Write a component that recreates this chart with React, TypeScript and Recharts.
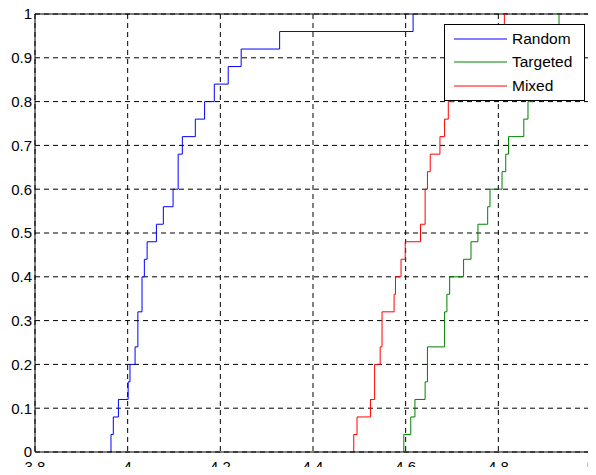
import {
  LineChart,
  Line,
  XAxis,
  YAxis,
  CartesianGrid,
  Legend,
  ReferenceLine,
} from "recharts";

const randomX = [3.964, 3.969, 3.98, 4.001, 4.005, 4.016, 4.022, 4.031, 4.036, 4.042, 4.062, 4.077, 4.098, 4.109, 4.118, 4.146, 4.166, 4.187, 4.217, 4.245, 4.328, 4.616];
const randomP = [0.04, 0.08, 0.12, 0.16, 0.2, 0.24, 0.32, 0.4, 0.44, 0.48, 0.52, 0.56, 0.6, 0.68, 0.72, 0.76, 0.8, 0.84, 0.88, 0.92, 0.96, 1.0];

const targetedX = [4.596, 4.611, 4.62, 4.642, 4.647, 4.684, 4.689, 4.695, 4.725, 4.741, 4.756, 4.777, 4.782, 4.808, 4.816, 4.822, 4.855, 4.864, 4.875, 4.885, 4.9, 4.915, 4.931];
const targetedP = [0.04, 0.08, 0.12, 0.16, 0.24, 0.32, 0.36, 0.4, 0.44, 0.48, 0.52, 0.56, 0.6, 0.64, 0.68, 0.72, 0.76, 0.8, 0.84, 0.88, 0.92, 0.96, 1.0];

const mixedX = [4.488, 4.495, 4.524, 4.533, 4.545, 4.549, 4.575, 4.578, 4.59, 4.599, 4.632, 4.642, 4.647, 4.653, 4.674, 4.684, 4.692, 4.705, 4.725, 4.75, 4.78, 4.813];
const mixedP = [0.04, 0.08, 0.12, 0.2, 0.24, 0.32, 0.36, 0.4, 0.44, 0.48, 0.52, 0.6, 0.64, 0.68, 0.72, 0.76, 0.8, 0.84, 0.88, 0.92, 0.96, 1.0];

const xTicks = [3.8, 4, 4.2, 4.4, 4.6, 4.8, 5];
const yTicks = [0, 0.1, 0.2, 0.3, 0.4, 0.5, 0.6, 0.7, 0.8, 0.9, 1];

const series = [
  { name: "Random", color: "#0000ff", xs: randomX, ps: randomP },
  { name: "Targeted", color: "#008000", xs: targetedX, ps: targetedP },
  { name: "Mixed", color: "#ff0000", xs: mixedX, ps: mixedP },
];

const toSteps = (xs: number[], ps: number[]) => [
  { x: xs[0], y: 0 },
  ...xs.map((x, i) => ({ x, y: ps[i] })),
];

const fmt = (v: number) => String(Number(v.toFixed(1)));

const renderLegend = () => (
  <div
    style={{
      width: 139,
      height: 73,
      border: "1px solid #000",
      background: "#fff",
      boxSizing: "content-box",
      paddingTop: 2,
    }}
  >
    {series.map((s) => (
      <div
        key={s.name}
        style={{ display: "flex", alignItems: "center", height: 23.5 }}
      >
        <svg width={67} height={10}>
          <line x1={9} x2={62} y1={5} y2={5} stroke={s.color} strokeWidth={1} />
        </svg>
        <span
          style={{
            fontFamily: "'Liberation Sans', Arial, sans-serif",
            fontSize: 15.5,
            color: "#000",
          }}
        >
          {s.name}
        </span>
      </div>
    ))}
  </div>
);

const App = () => {
  const tickStyle = {
    fontFamily: "'Liberation Sans', Arial, sans-serif",
    fontSize: 15,
    fill: "#000",
  };
  return (
    // cancel the body margin so the chart sits at the page origin
    <div style={{ margin: -8, width: 596, height: 475, overflow: "hidden" }}>
      <LineChart
        width={596}
        height={475}
        margin={{ top: 14, right: 5, left: 0, bottom: 0 }}
      >
        <CartesianGrid stroke="#000" strokeDasharray="5 4" />
        <XAxis
          type="number"
          dataKey="x"
          domain={[3.8, 5]}
          ticks={xTicks}
          interval={0}
          tickFormatter={fmt}
          allowDataOverflow
          height={23}
          tickSize={0}
          tickMargin={9}
          tick={tickStyle}
          axisLine={{ stroke: "#000" }}
          tickLine={false}
        />
        <YAxis
          type="number"
          domain={[0, 1]}
          ticks={yTicks}
          interval={0}
          tickFormatter={fmt}
          width={35}
          tickSize={0}
          tickMargin={3}
          tick={tickStyle}
          axisLine={{ stroke: "#000" }}
          tickLine={false}
        />
        <ReferenceLine y={1} stroke="#000" />
        <ReferenceLine x={5} stroke="#000" />
        {series.map((s) => (
          <Line
            key={s.name}
            name={s.name}
            data={toSteps(s.xs, s.ps)}
            dataKey="y"
            type="stepAfter"
            stroke={s.color}
            strokeWidth={1}
            dot={false}
            isAnimationActive={false}
          />
        ))}
        <Legend
          layout="horizontal"
          verticalAlign="middle"
          align="center"
          content={renderLegend}
          wrapperStyle={{ top: 24, left: 444, width: 141, height: 77 }}
        />
      </LineChart>
    </div>
  );
};

export default App;
